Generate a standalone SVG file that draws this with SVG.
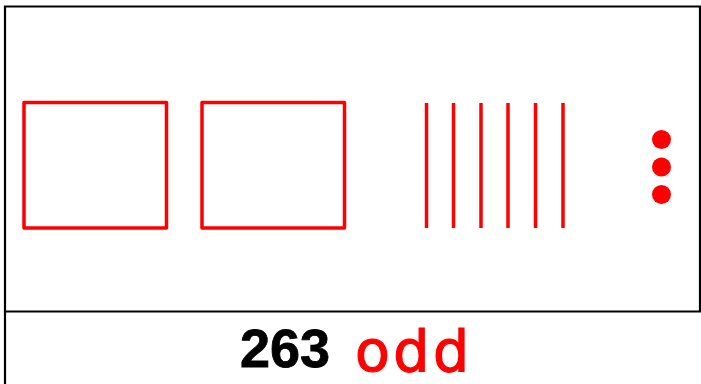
<svg xmlns="http://www.w3.org/2000/svg" width="701" height="384" viewBox="0 0 701 384">
<style>
.frame{fill:none;stroke:#000;stroke-width:2.2}
.hund{fill:none;stroke:#ff0000;stroke-width:3.5;stroke-linejoin:round}
.ten{stroke:#ff0000;stroke-width:3.5}
.one{fill:#ff0000}
.num{font-family:"Liberation Sans",Arial,sans-serif;font-weight:bold;font-size:54px;fill:#000;stroke:#000;stroke-width:0.8}
.par{font-family:"DejaVu Sans",sans-serif;font-size:57px;fill:#ff0000;stroke:#ff0000;stroke-width:1.2;letter-spacing:3.5px}
</style>
<rect width="701" height="384" fill="#fff"/>
<g id="frame">
<path class="frame" d="M5,384 V6.5 H700 V311.5 M5,311.5 H701"/>
</g>
<g id="hundreds">
<rect class="hund" x="24" y="102.5" width="142.5" height="125.5"/>
<rect class="hund" x="202" y="102.5" width="142.5" height="125.5"/>
</g>
<g id="tens">
<line class="ten" x1="426.5" y1="103" x2="426.5" y2="228"/>
<line class="ten" x1="453.5" y1="103" x2="453.5" y2="228"/>
<line class="ten" x1="481" y1="103" x2="481" y2="228"/>
<line class="ten" x1="508" y1="103" x2="508" y2="228"/>
<line class="ten" x1="535.5" y1="103" x2="535.5" y2="228"/>
<line class="ten" x1="563" y1="103" x2="563" y2="228"/>
</g>
<g id="ones">
<circle class="one" cx="661.5" cy="139.5" r="9.5"/>
<circle class="one" cx="661.5" cy="167" r="9.5"/>
<circle class="one" cx="661.5" cy="194.5" r="9.5"/>
</g>
<g id="label">
<text class="num" x="240" y="367">263</text>
<text class="par" x="355" y="370.5">odd</text>
</g>
</svg>
